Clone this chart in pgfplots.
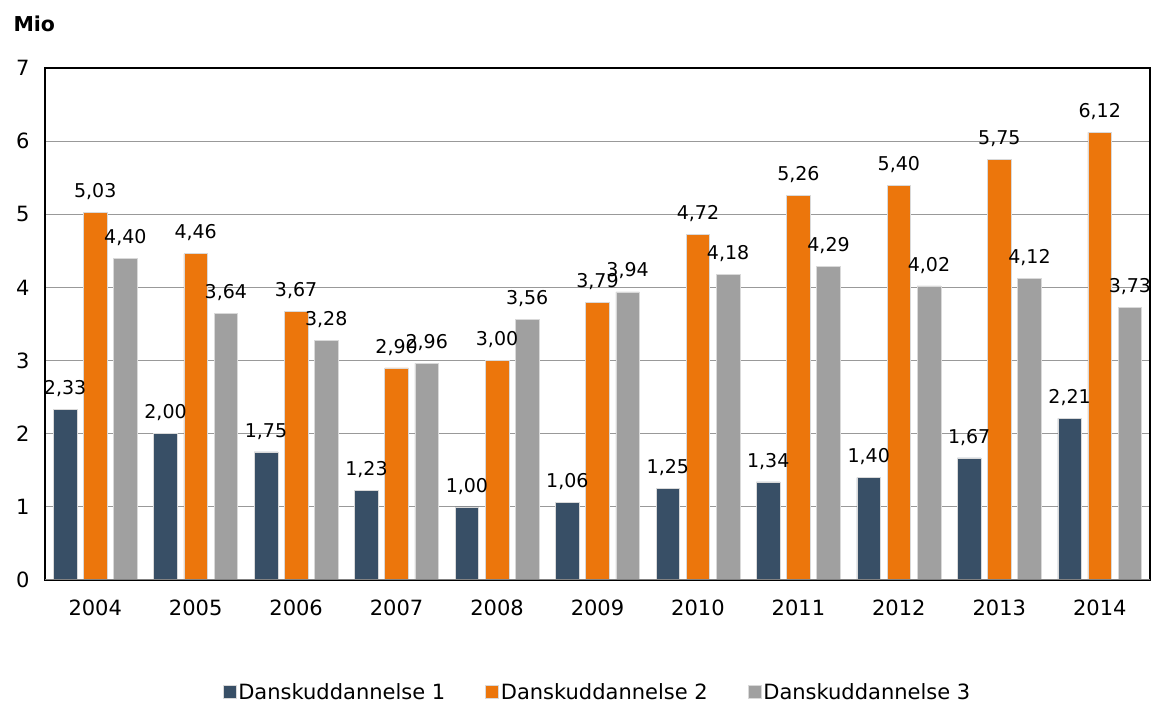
\documentclass[border=0pt]{standalone}
\usepackage{fontspec}
\setmainfont{DejaVu Sans}
\usepackage{pgfplots}
\pgfplotsset{compat=1.18}
\definecolor{cdark}{HTML}{384F66}
\definecolor{corange}{HTML}{EC760C}
\definecolor{cgray}{HTML}{A0A0A0}
\begin{document}
\begin{tikzpicture}
\useasboundingbox (0pt,0pt) rectangle (1153pt,706pt);
\begin{axis}[
  at={(45pt,126pt)}, anchor=south west,
  scale only axis, width=1105pt, height=512pt,
  xmin=-0.5, xmax=10.5, ymin=0, ymax=7,
  xtick={0,...,10},
  xticklabels={2004,2005,2006,2007,2008,2009,2010,2011,2012,2013,2014},
  ytick={0,...,7},
  major tick length=0pt,
  ymajorgrids, grid style={color=gray!80, line width=0.9pt},
  axis line style={black, line width=1.6pt},
  tick label style={font=\fontsize{21}{24}\selectfont},
  xticklabel style={yshift=-16pt},
  yticklabel style={xshift=-12pt},
  /pgf/number format/assume math mode=true,
  ybar, bar width=0.235,
  nodes near coords,
  every node near coord/.append style={font=\fontsize{19}{22}\selectfont, black, yshift=9pt},
  nodes near coords style={/pgf/number format/.cd, fixed, fixed zerofill, precision=2, use comma, assume math mode=true},
  legend columns=3,
  legend style={at={(0.5,-0.219)}, anchor=center, draw=none, font=\fontsize{21}{24}\selectfont,
    /tikz/every even column/.append style={column sep=38pt}},
  legend image code/.code={\fill[#1] (-3pt,-6.5pt) rectangle (10pt,6.5pt);},
]
\addplot[fill=cdark, draw=white!85!black, line width=0.6pt, bar shift=-0.3] coordinates {
(0,2.33) (1,2.00) (2,1.75) (3,1.23) (4,1.00) (5,1.06) (6,1.25) (7,1.34) (8,1.40) (9,1.67) (10,2.21)};
\addplot[fill=corange, draw=white!85!black, line width=0.6pt, bar shift=0] coordinates {
(0,5.03) (1,4.46) (2,3.67) (3,2.90) (4,3.00) (5,3.79) (6,4.72) (7,5.26) (8,5.40) (9,5.75) (10,6.12)};
\addplot[fill=cgray, draw=white!85!black, line width=0.6pt, bar shift=0.3] coordinates {
(0,4.40) (1,3.64) (2,3.28) (3,2.96) (4,3.56) (5,3.94) (6,4.18) (7,4.29) (8,4.02) (9,4.12) (10,3.73)};
\legend{Danskuddannelse 1,Danskuddannelse 2,Danskuddannelse 3}
\draw[color=gray, line width=2pt] (rel axis cs:0,0) -- (rel axis cs:1,0);
\end{axis}
\node[anchor=west, font=\bfseries\fontsize{20.5}{24}\selectfont] at (10pt,682pt) {Mio};
\end{tikzpicture}
\end{document}
